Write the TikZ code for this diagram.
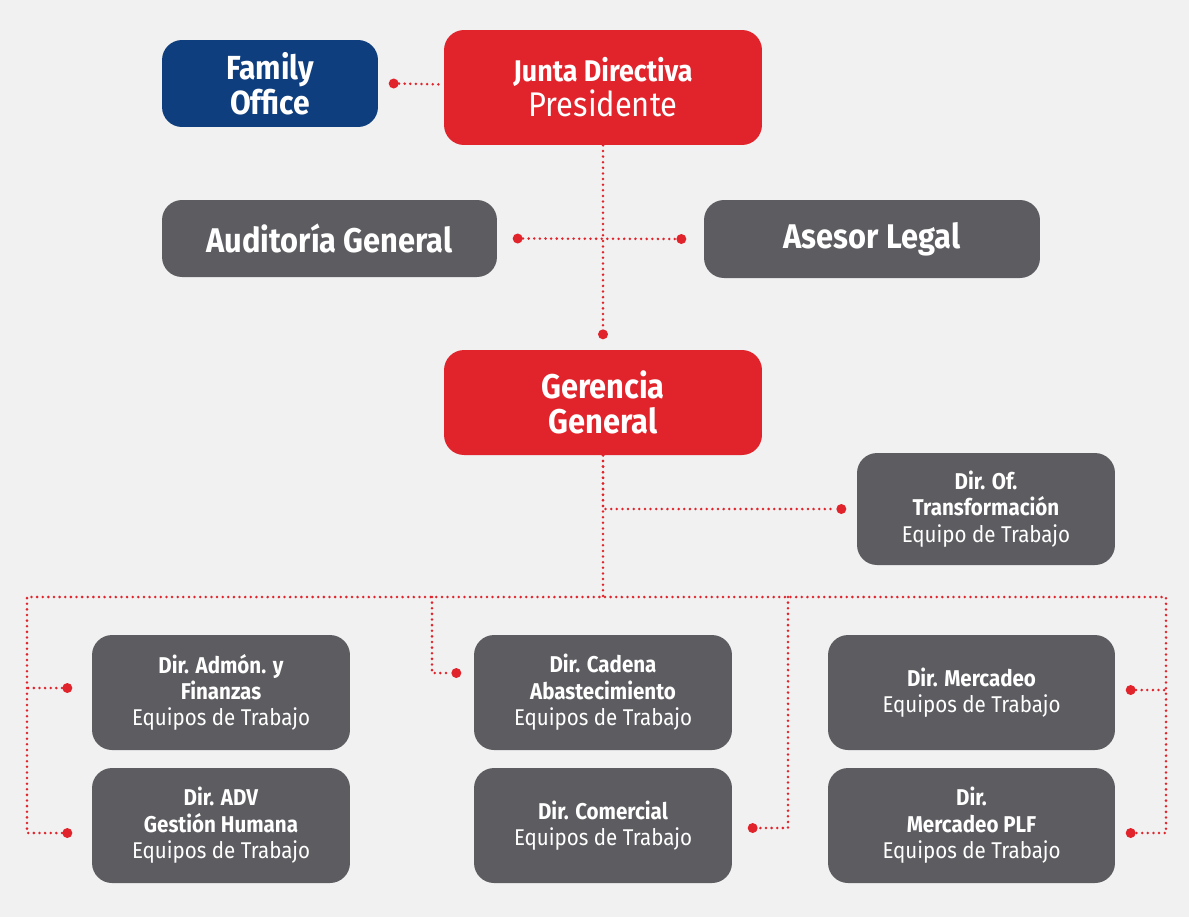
\documentclass[tikz,border=0pt]{standalone}
\usepackage{fontspec}
\setmainfont{Fira Sans}[FakeStretch=0.9]
\usetikzlibrary{positioning}
\usetikzlibrary{calc}
\definecolor{jred}{HTML}{E1232B}
\definecolor{jblue}{HTML}{0E3E7E}
\definecolor{jgray}{HTML}{5D5C61}
\definecolor{paper}{HTML}{F1F1F1}

\begin{document}
\begin{tikzpicture}[x=0.02cm,y=-0.02cm,
   box/.style={rounded corners=0.4cm,inner sep=0pt,align=center,text=white},
   bigbox/.style={box,font=\fontsize{19.5}{20}\selectfont},
   smallbox/.style={box,fill=jgray,font=\fontsize{13}{15}\selectfont},
   link/.style={draw=jred,line width=1.6pt,line cap=round,dash pattern=on 0pt off 3.2pt},
   dot/.style={fill=jred,circle,inner sep=0pt,minimum size=0.2cm}
  ]
\fill[paper] (0,0) rectangle (1189,917);
\useasboundingbox (0,0) rectangle (1189,917);

% top level
\node[bigbox,fill=jblue,minimum width=4.32cm,minimum height=1.74cm,
  font=\fontsize{19}{16.5}\selectfont\bfseries] (fam) at (270,83.5) {Family\\Office};
\node[bigbox,fill=jred,minimum width=6.36cm,minimum height=2.3cm] (junta) at (603,87.5)
  {{\fontsize{17}{20}\selectfont\bfseries Junta Directiva}\\Presidente};
\node[bigbox,fill=jgray,minimum width=6.7cm,minimum height=1.54cm] (aud) at (329.5,238.5)
  {\textbf{Auditoría General}};
\node[bigbox,fill=jgray,minimum width=6.72cm,minimum height=1.56cm] (ase) at (872,239)
  {\textbf{Asesor Legal}};
\node[bigbox,fill=jred,minimum width=6.36cm,minimum height=2.1cm] (ger) at (603,402.5)
  {\textbf{Gerencia}\\\textbf{General}};
\node[smallbox,minimum width=5.16cm,minimum height=2.24cm] (trans) at (986,509)
  {\textbf{Dir. Of.}\\\textbf{Transformación}\\Equipo de Trabajo};

% directions
\node[smallbox,minimum width=5.16cm,minimum height=2.3cm] (adm) at (221,692.5)
  {\textbf{Dir. Admón. y}\\\textbf{Finanzas}\\Equipos de Trabajo};
\node[smallbox,minimum width=5.16cm,minimum height=2.3cm] (cad) at (603,692.5)
  {\textbf{Dir. Cadena}\\\textbf{Abastecimiento}\\Equipos de Trabajo};
\node[smallbox,minimum width=5.74cm,minimum height=2.3cm] (mer) at (971.5,692.5)
  {\textbf{Dir. Mercadeo}\\Equipos de Trabajo};
\node[smallbox,minimum width=5.16cm,minimum height=2.3cm] (adv) at (221,825.5)
  {\textbf{Dir. ADV}\\\textbf{Gestión Humana}\\Equipos de Trabajo};
\node[smallbox,minimum width=5.16cm,minimum height=2.3cm] (com) at (603,825.5)
  {\textbf{Dir. Comercial}\\Equipos de Trabajo};
\node[smallbox,minimum width=5.74cm,minimum height=2.3cm] (plf) at (971.5,825.5)
  {\textbf{Dir.}\\\textbf{Mercadeo PLF}\\Equipos de Trabajo};

% dots
\node[dot,right=0.2cm of fam] (famdot) {};
\node[dot,right=0.3cm of aud] (auddot) {};
\node[dot,left=0.34cm of ase] (asedot) {};
\node[dot,above=0.2cm of ger] (gerdot) {};
\node[dot,left=0.2cm of trans] (transdot) {};
\node[dot,left=0.38cm of adm,yshift=0.09cm] (admdot) {};
\node[dot,left=0.38cm of adv,yshift=-0.15cm] (advdot) {};
\node[dot,left=0.24cm of cad,yshift=0.39cm] (caddot) {};
\node[dot,right=0.3cm of com,yshift=-0.05cm] (comdot) {};
\node[dot,right=0.2cm of mer,yshift=0.05cm] (merdot) {};
\node[dot,right=0.2cm of plf,yshift=-0.15cm] (plfdot) {};

\coordinate (busL) at (27,597);
\coordinate (busR) at (1166,597);
\coordinate (cadtop) at (432,597);
\coordinate (comtop) at (788,597);

% connectors
\draw[link] (famdot) -- (junta);
\draw[link] (junta.south) -- (gerdot);
\draw[link] (auddot) -- (asedot);
\draw[link] (ger.south) -- (ger.south |- busL);
\draw[link] (ger.south) |- (transdot);
\draw[link] (advdot) -| (busL) -- (busR) |- (plfdot);
\draw[link] (admdot) -- (admdot -| busL);
\draw[link] (merdot) -- (merdot -| busR);
\draw[link] (cadtop) |- (caddot);
\draw[link] (comtop) |- (comdot);

\end{tikzpicture}
\end{document}
